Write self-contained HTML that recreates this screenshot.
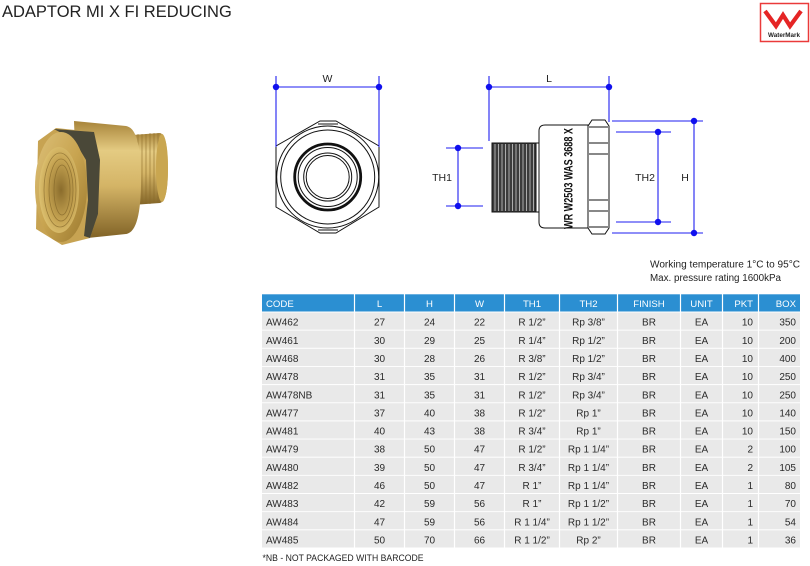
<!DOCTYPE html>
<html><head><meta charset="utf-8"><style>
html,body{margin:0;padding:0;background:#fff;}
body{width:810px;height:566px;overflow:hidden;position:relative;}
svg{position:absolute;left:0;top:0;}
text{font-family:"Liberation Sans",sans-serif;}
.tb{font-size:10px;fill:#2a2a2a;}
.th{font-size:9.6px;fill:#fff;}
</style></head><body>
<svg width="810" height="566" viewBox="0 0 810 566" xmlns="http://www.w3.org/2000/svg">
<defs>
<linearGradient id="gv" x1="0" y1="0" x2="0" y2="1">
<stop offset="0" stop-color="#a8843a"/>
<stop offset="0.25" stop-color="#e4cb82"/>
<stop offset="0.55" stop-color="#d4b466"/>
<stop offset="1" stop-color="#806226"/>
</linearGradient>
<linearGradient id="gf" x1="0" y1="0" x2="1" y2="1">
<stop offset="0" stop-color="#dcc078"/>
<stop offset="0.5" stop-color="#c8a450"/>
<stop offset="1" stop-color="#9a782e"/>
</linearGradient>
<radialGradient id="go" cx="0.55" cy="0.5" r="0.6">
<stop offset="0" stop-color="#8a6c2c"/>
<stop offset="0.6" stop-color="#c6a452"/>
<stop offset="1" stop-color="#e2c878"/>
</radialGradient>
</defs>

<!-- Title -->
<text x="2" y="17" style="font-size:16.5px;fill:#222;">ADAPTOR MI X FI REDUCING</text>

<!-- Logo -->
<rect x="760.5" y="3.5" width="48" height="38" fill="#fff" stroke="#ea3a3a" stroke-width="1.5"/>
<polyline points="765,11 776,26 783,15 790,26 801,11" fill="none" stroke="#e52525" stroke-width="4.2" stroke-linejoin="miter"/>
<text x="784" y="37" text-anchor="middle" style="font-size:6.3px;font-weight:bold;fill:#222;">WaterMark</text>

<!-- Photo -->
<path d="M118,136 L160,133 Q168,135 168,168 Q168,201 160,203 L118,206 Z" fill="url(#gv)"/>
<g stroke="#8a6a28" stroke-width="1" opacity="0.55">
<line x1="122" y1="135" x2="122" y2="206"/><line x1="126" y1="135" x2="126" y2="206"/>
<line x1="130" y1="135" x2="130" y2="205"/><line x1="134" y1="134" x2="134" y2="205"/>
<line x1="138" y1="134" x2="138" y2="205"/><line x1="142" y1="134" x2="142" y2="204"/>
<line x1="146" y1="134" x2="146" y2="204"/><line x1="150" y1="133" x2="150" y2="204"/>
<line x1="154" y1="133" x2="154" y2="203"/><line x1="158" y1="133" x2="158" y2="203"/>
</g>
<ellipse cx="162" cy="168" rx="6" ry="34" fill="#c9a650"/>
<path d="M74,121 L126,126 Q141,128 141,180 Q141,232 126,234 L78,239 Z" fill="url(#gv)"/>
<path d="M38,141 L56,128 L94,132 L100,160 L98,214 L90,238 L62,245 L36,229 Z" fill="#c7a352"/>
<path d="M54,129 L94,132 L100,160 L98,214 L90,238 L84,236 L88,200 L86,160 L74,140 Z" fill="#4a4838"/>
<ellipse cx="61" cy="187" rx="26" ry="55" fill="url(#gf)"/>
<ellipse cx="59" cy="190" rx="20" ry="43" fill="url(#go)"/>
<g fill="none" stroke="#7a5e24" stroke-width="0.8" opacity="0.6">
<ellipse cx="60" cy="190" rx="16" ry="37"/><ellipse cx="61" cy="190" rx="12" ry="31"/><ellipse cx="62" cy="190" rx="8" ry="25"/>
</g>

<!-- Front view -->
<g stroke="#111" fill="none" stroke-width="1">
<polygon points="320,121 336,121 379,146 379,207 336,233 320,233 276,207 276,146"/>
<polyline points="318,124 338,124"/>
<polyline points="318,230 338,230"/>
<circle cx="327.7" cy="177" r="51"/>
<circle cx="327.7" cy="177" r="47"/>
<circle cx="327.7" cy="177" r="33" stroke-width="2.8"/>
<circle cx="327.7" cy="177" r="29.5"/>
<circle cx="327.7" cy="177" r="24"/>
<circle cx="327.7" cy="177" r="21.5"/>
</g>

<!-- Side view -->
<rect x="492" y="143" width="46" height="69" fill="#3c3c3c" stroke="#111" stroke-width="1"/>
<g stroke="#c8c8c8" stroke-width="0.8">
<line x1="495" y1="144" x2="495" y2="211"/><line x1="498.5" y1="144" x2="498.5" y2="211"/>
<line x1="502" y1="144" x2="502" y2="211"/><line x1="505.5" y1="144" x2="505.5" y2="211"/>
<line x1="509" y1="144" x2="509" y2="211"/><line x1="512.5" y1="144" x2="512.5" y2="211"/>
<line x1="516" y1="144" x2="516" y2="211"/><line x1="519.5" y1="144" x2="519.5" y2="211"/>
<line x1="523" y1="144" x2="523" y2="211"/><line x1="526.5" y1="144" x2="526.5" y2="211"/>
<line x1="530" y1="144" x2="530" y2="211"/><line x1="533.5" y1="144" x2="533.5" y2="211"/>
</g>
<g stroke="#111" fill="#fff" stroke-width="1">
<rect x="536" y="143" width="3" height="69"/>
<path d="M539,131 Q539,125 545,125 L588,125 L588,228 L545,228 Q539,228 539,222 Z"/>
<path d="M592,120 L605,120 L609,126 L609,228 L605,234 L592,234 L588,228 L588,126 Z"/>
<line x1="589" y1="127" x2="608" y2="127"/>
<line x1="589" y1="227" x2="608" y2="227"/>
<line x1="589" y1="143" x2="608" y2="143"/>
<line x1="589" y1="154" x2="608" y2="154"/>
<line x1="589" y1="200" x2="608" y2="200"/>
<line x1="589" y1="211" x2="608" y2="211"/>
</g>
<text transform="translate(572.5,229) rotate(-90)" textLength="101" lengthAdjust="spacingAndGlyphs" style="font-size:12px;font-weight:bold;fill:#111;">WR W2503 WAS 3688 X</text>

<!-- Dimensions -->
<g stroke="#1e1ef0" stroke-width="1.1" fill="none">
<line x1="276" y1="76" x2="276" y2="147"/><line x1="379" y1="76" x2="379" y2="147"/>
<line x1="276" y1="87" x2="379" y2="87"/>
<line x1="489" y1="76" x2="489" y2="141"/><line x1="609" y1="76" x2="609" y2="122"/>
<line x1="489" y1="87" x2="609" y2="87"/>
<line x1="446" y1="148" x2="483" y2="148"/><line x1="446" y1="206" x2="483" y2="206"/>
<line x1="458" y1="148" x2="458" y2="206"/>
<line x1="616" y1="132" x2="671" y2="132"/><line x1="616" y1="222" x2="671" y2="222"/>
<line x1="658" y1="132" x2="658" y2="222"/>
<line x1="612" y1="121" x2="703" y2="121"/><line x1="612" y1="233" x2="703" y2="233"/>
<line x1="694" y1="121" x2="694" y2="233"/>
</g>
<g fill="#1010ee">
<circle cx="276" cy="87" r="3.2"/><circle cx="379" cy="87" r="3.2"/>
<circle cx="489" cy="87" r="3.2"/><circle cx="609" cy="87" r="3.2"/>
<circle cx="458" cy="148" r="3.2"/><circle cx="458" cy="206" r="3.2"/>
<circle cx="658" cy="132" r="3.2"/><circle cx="658" cy="222" r="3.2"/>
<circle cx="694" cy="121" r="3.2"/><circle cx="694" cy="233" r="3.2"/>
</g>
<g style="font-size:10.5px;fill:#222;" text-anchor="middle">
<text x="327.5" y="82">W</text>
<text x="549" y="82">L</text>
<text x="442" y="181">TH1</text>
<text x="645" y="181">TH2</text>
<text x="685" y="181">H</text>
</g>

<!-- Notes -->
<text x="650" y="267.5" textLength="150" lengthAdjust="spacingAndGlyphs" style="font-size:10px;fill:#222;">Working temperature 1°C to 95°C</text>
<text x="650" y="281" textLength="131" lengthAdjust="spacingAndGlyphs" style="font-size:10px;fill:#222;">Max. pressure rating 1600kPa</text>

<!-- Table backgrounds -->
<g id="tbl">
<rect x="262" y="294.3" width="538" height="17.2" fill="#2b8fd2"/>
<g fill="#e9e9e9">
<rect x="262" y="312.5" width="538" height="17.2"/>
<rect x="262" y="330.6" width="538" height="17.2"/>
<rect x="262" y="348.8" width="538" height="17.2"/>
<rect x="262" y="366.9" width="538" height="17.2"/>
<rect x="262" y="385.1" width="538" height="17.2"/>
<rect x="262" y="403.2" width="538" height="17.2"/>
<rect x="262" y="421.4" width="538" height="17.2"/>
<rect x="262" y="439.5" width="538" height="17.2"/>
<rect x="262" y="457.7" width="538" height="17.2"/>
<rect x="262" y="475.8" width="538" height="17.2"/>
<rect x="262" y="494.0" width="538" height="17.2"/>
<rect x="262" y="512.1" width="538" height="17.2"/>
<rect x="262" y="530.3" width="538" height="17.2"/>
</g>
<g stroke="#fff" stroke-width="1.2">
<line x1="354.5" y1="294" x2="354.5" y2="548"/>
<line x1="404.5" y1="294" x2="404.5" y2="548"/>
<line x1="454.5" y1="294" x2="454.5" y2="548"/>
<line x1="504.5" y1="294" x2="504.5" y2="548"/>
<line x1="559.5" y1="294" x2="559.5" y2="548"/>
<line x1="617.5" y1="294" x2="617.5" y2="548"/>
<line x1="680.5" y1="294" x2="680.5" y2="548"/>
<line x1="722.5" y1="294" x2="722.5" y2="548"/>
<line x1="758.5" y1="294" x2="758.5" y2="548"/>
</g>
</g>

<!-- Header text -->
<g class="th">
<text x="266" y="306.8">CODE</text>
<text x="379.5" y="306.8" text-anchor="middle">L</text>
<text x="429.5" y="306.8" text-anchor="middle">H</text>
<text x="479.5" y="306.8" text-anchor="middle">W</text>
<text x="532" y="306.8" text-anchor="middle">TH1</text>
<text x="588.5" y="306.8" text-anchor="middle">TH2</text>
<text x="649" y="306.8" text-anchor="middle">FINISH</text>
<text x="701.5" y="306.8" text-anchor="middle">UNIT</text>
<text x="753" y="306.8" text-anchor="end">PKT</text>
<text x="796" y="306.8" text-anchor="end">BOX</text>
</g>

<!-- Rows -->
<g class="tb">
<g transform="translate(0,325.7)"><text x="266">AW462</text><text x="379.5" text-anchor="middle">27</text><text x="429.5" text-anchor="middle">24</text><text x="479.5" text-anchor="middle">22</text><text x="532" text-anchor="middle">R 1/2”</text><text x="588.5" text-anchor="middle">Rp 3/8”</text><text x="649" text-anchor="middle">BR</text><text x="701.5" text-anchor="middle">EA</text><text x="753" text-anchor="end">10</text><text x="796" text-anchor="end">350</text></g>
<g transform="translate(0,343.8)"><text x="266">AW461</text><text x="379.5" text-anchor="middle">30</text><text x="429.5" text-anchor="middle">29</text><text x="479.5" text-anchor="middle">25</text><text x="532" text-anchor="middle">R 1/4”</text><text x="588.5" text-anchor="middle">Rp 1/2”</text><text x="649" text-anchor="middle">BR</text><text x="701.5" text-anchor="middle">EA</text><text x="753" text-anchor="end">10</text><text x="796" text-anchor="end">200</text></g>
<g transform="translate(0,362.0)"><text x="266">AW468</text><text x="379.5" text-anchor="middle">30</text><text x="429.5" text-anchor="middle">28</text><text x="479.5" text-anchor="middle">26</text><text x="532" text-anchor="middle">R 3/8”</text><text x="588.5" text-anchor="middle">Rp 1/2”</text><text x="649" text-anchor="middle">BR</text><text x="701.5" text-anchor="middle">EA</text><text x="753" text-anchor="end">10</text><text x="796" text-anchor="end">400</text></g>
<g transform="translate(0,380.1)"><text x="266">AW478</text><text x="379.5" text-anchor="middle">31</text><text x="429.5" text-anchor="middle">35</text><text x="479.5" text-anchor="middle">31</text><text x="532" text-anchor="middle">R 1/2”</text><text x="588.5" text-anchor="middle">Rp 3/4”</text><text x="649" text-anchor="middle">BR</text><text x="701.5" text-anchor="middle">EA</text><text x="753" text-anchor="end">10</text><text x="796" text-anchor="end">250</text></g>
<g transform="translate(0,398.3)"><text x="266">AW478NB</text><text x="379.5" text-anchor="middle">31</text><text x="429.5" text-anchor="middle">35</text><text x="479.5" text-anchor="middle">31</text><text x="532" text-anchor="middle">R 1/2”</text><text x="588.5" text-anchor="middle">Rp 3/4”</text><text x="649" text-anchor="middle">BR</text><text x="701.5" text-anchor="middle">EA</text><text x="753" text-anchor="end">10</text><text x="796" text-anchor="end">250</text></g>
<g transform="translate(0,416.4)"><text x="266">AW477</text><text x="379.5" text-anchor="middle">37</text><text x="429.5" text-anchor="middle">40</text><text x="479.5" text-anchor="middle">38</text><text x="532" text-anchor="middle">R 1/2”</text><text x="588.5" text-anchor="middle">Rp 1”</text><text x="649" text-anchor="middle">BR</text><text x="701.5" text-anchor="middle">EA</text><text x="753" text-anchor="end">10</text><text x="796" text-anchor="end">140</text></g>
<g transform="translate(0,434.6)"><text x="266">AW481</text><text x="379.5" text-anchor="middle">40</text><text x="429.5" text-anchor="middle">43</text><text x="479.5" text-anchor="middle">38</text><text x="532" text-anchor="middle">R 3/4”</text><text x="588.5" text-anchor="middle">Rp 1”</text><text x="649" text-anchor="middle">BR</text><text x="701.5" text-anchor="middle">EA</text><text x="753" text-anchor="end">10</text><text x="796" text-anchor="end">150</text></g>
<g transform="translate(0,452.7)"><text x="266">AW479</text><text x="379.5" text-anchor="middle">38</text><text x="429.5" text-anchor="middle">50</text><text x="479.5" text-anchor="middle">47</text><text x="532" text-anchor="middle">R 1/2”</text><text x="588.5" text-anchor="middle">Rp 1 1/4”</text><text x="649" text-anchor="middle">BR</text><text x="701.5" text-anchor="middle">EA</text><text x="753" text-anchor="end">2</text><text x="796" text-anchor="end">100</text></g>
<g transform="translate(0,470.9)"><text x="266">AW480</text><text x="379.5" text-anchor="middle">39</text><text x="429.5" text-anchor="middle">50</text><text x="479.5" text-anchor="middle">47</text><text x="532" text-anchor="middle">R 3/4”</text><text x="588.5" text-anchor="middle">Rp 1 1/4”</text><text x="649" text-anchor="middle">BR</text><text x="701.5" text-anchor="middle">EA</text><text x="753" text-anchor="end">2</text><text x="796" text-anchor="end">105</text></g>
<g transform="translate(0,489.0)"><text x="266">AW482</text><text x="379.5" text-anchor="middle">46</text><text x="429.5" text-anchor="middle">50</text><text x="479.5" text-anchor="middle">47</text><text x="532" text-anchor="middle">R 1”</text><text x="588.5" text-anchor="middle">Rp 1 1/4”</text><text x="649" text-anchor="middle">BR</text><text x="701.5" text-anchor="middle">EA</text><text x="753" text-anchor="end">1</text><text x="796" text-anchor="end">80</text></g>
<g transform="translate(0,507.2)"><text x="266">AW483</text><text x="379.5" text-anchor="middle">42</text><text x="429.5" text-anchor="middle">59</text><text x="479.5" text-anchor="middle">56</text><text x="532" text-anchor="middle">R 1”</text><text x="588.5" text-anchor="middle">Rp 1 1/2”</text><text x="649" text-anchor="middle">BR</text><text x="701.5" text-anchor="middle">EA</text><text x="753" text-anchor="end">1</text><text x="796" text-anchor="end">70</text></g>
<g transform="translate(0,525.3)"><text x="266">AW484</text><text x="379.5" text-anchor="middle">47</text><text x="429.5" text-anchor="middle">59</text><text x="479.5" text-anchor="middle">56</text><text x="532" text-anchor="middle">R 1 1/4”</text><text x="588.5" text-anchor="middle">Rp 1 1/2”</text><text x="649" text-anchor="middle">BR</text><text x="701.5" text-anchor="middle">EA</text><text x="753" text-anchor="end">1</text><text x="796" text-anchor="end">54</text></g>
<g transform="translate(0,543.5)"><text x="266">AW485</text><text x="379.5" text-anchor="middle">50</text><text x="429.5" text-anchor="middle">70</text><text x="479.5" text-anchor="middle">66</text><text x="532" text-anchor="middle">R 1 1/2”</text><text x="588.5" text-anchor="middle">Rp 2”</text><text x="649" text-anchor="middle">BR</text><text x="701.5" text-anchor="middle">EA</text><text x="753" text-anchor="end">1</text><text x="796" text-anchor="end">36</text></g>
</g>

<!-- Footnote -->
<text x="262.5" y="561" textLength="161" lengthAdjust="spacingAndGlyphs" style="font-size:9px;fill:#222;">*NB - NOT PACKAGED WITH BARCODE</text>
</svg>
</body></html>
